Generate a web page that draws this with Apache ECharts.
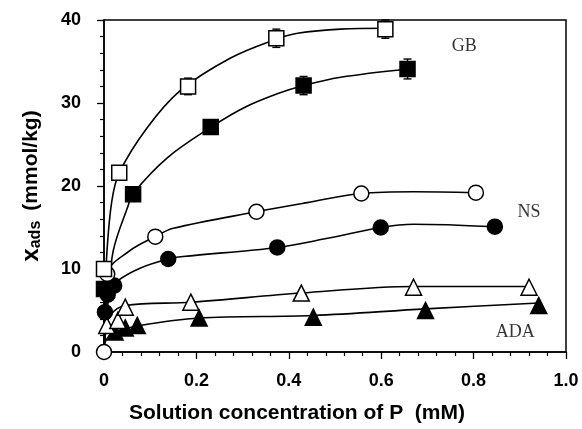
<!DOCTYPE html>
<html><head><meta charset="utf-8">
<script src="https://cdn.jsdelivr.net/npm/echarts@6/dist/echarts.min.js"></script>
<style>html,body{margin:0;padding:0;background:#fff}#c{width:582px;height:429px}</style>
</head><body><div id="c"></div>
<script>
// x tick labels / axis
const xTicks = [0, 0.2, 0.4, 0.6, 0.8, 1.0];
const yTicks = [0, 10, 20, 30, 40];

// measured points [x (mM), x_ads (mmol/kg)]
const gbOpen   = [[0,10.0],[0.033,21.6],[0.182,32.0],[0.373,37.8],[0.609,38.9]];
const gbFilled = [[0,7.6],[0.063,19.0],[0.231,27.1],[0.432,32.1],[0.657,34.1]];
const nsOpen   = [[0,0],[0.007,9.4],[0.111,13.9],[0.330,16.9],[0.557,19.1],[0.805,19.2]];
const nsFilled = [[0.002,4.8],[0.008,6.9],[0.022,8.0],[0.139,11.2],[0.375,12.6],[0.599,15.0],[0.846,15.1]];
const adaOpen  = [[0.006,3.2],[0.030,3.8],[0.046,5.4],[0.188,6.0],[0.427,7.1],[0.670,7.8],[0.920,7.8]];
const adaFilled= [[0.024,2.4],[0.046,2.9],[0.072,3.2],[0.206,4.1],[0.453,4.2],[0.696,5.0],[0.941,5.6]];

// error bars [x, low, high]
const errBars = [[0.182,31.0,33.0],[0.373,36.7,38.9],[0.609,37.8,40.0],[0.432,31.0,33.2],[0.657,32.9,35.3]];

// fitted curves
const gbOpenCurve   = [[0,0],[0.002,6.2],[0.0065,12.2],[0.017,18.2],[0.033,21.6],[0.093,27.0],[0.165,31.5],[0.273,35.4],[0.373,37.7],[0.419,38.4],[0.512,38.9],[0.609,39.0]];
const gbFilledCurve = [[0,0],[0.009,6.2],[0.02,12.2],[0.052,17.6],[0.063,19.1],[0.137,23.4],[0.232,27.1],[0.302,29.4],[0.375,31.1],[0.432,32.1],[0.512,33.1],[0.657,34.1]];
const nsOpenCurve   = [[0,0],[0.007,9.4],[0.056,12.2],[0.111,13.9],[0.150,14.9],[0.330,16.9],[0.440,18.0],[0.557,19.1],[0.670,19.3],[0.805,19.2]];
const nsFilledCurve = [[0,0],[0.002,4.8],[0.013,7.4],[0.030,8.6],[0.078,10.1],[0.139,11.2],[0.171,11.5],[0.375,12.6],[0.484,13.7],[0.599,15.0],[0.670,15.4],[0.844,15.1]];
const adaOpenCurve  = [[0,0],[0.004,2.6],[0.013,4.4],[0.046,5.6],[0.189,6.0],[0.427,7.1],[0.670,7.9],[0.920,7.9]];
const adaFilledCurve= [[0,0],[0.004,1.4],[0.024,2.4],[0.078,3.2],[0.206,4.1],[0.453,4.4],[0.696,5.2],[0.941,5.9]];

const labels = [{text:'GB', x:0.78, y:36.8},{text:'NS', x:0.92, y:16.8},{text:'ADA', x:0.89, y:2.4}];

const chart = echarts.init(document.getElementById('c'), null, {renderer:'canvas'});
const SANS = 'Liberation Sans, Arial';
function curve(d){return {type:'line',data:d,smooth:0.35,symbol:'none',lineStyle:{color:'#000',width:1.6},z:2,silent:true};}
function pts(d,sym,fill,size){return {type:'scatter',data:d,symbol:sym,symbolSize:size,itemStyle:{color:fill,borderColor:'#000',borderWidth:1.5,opacity:1},z:4,silent:true};}
const option = {
  animation:false,
  grid:{left:104,right:16,top:20,bottom:77,show:true,borderColor:'#000',borderWidth:1.5},
  xAxis:{type:'value',min:0,max:1,interval:0.2,
    axisLine:{show:true,lineStyle:{color:'#000',width:1.5}},
    axisTick:{show:true,length:7,lineStyle:{color:'#000',width:1.3}},
    minorTick:{show:true,splitNumber:5,length:4,lineStyle:{color:'#000',width:1.2}},
    splitLine:{show:false},
    axisLabel:{margin:20,color:'#000',fontFamily:SANS,fontWeight:'bold',fontSize:18,
      formatter:v=>{const t=xTicks.find(a=>Math.abs(a-v)<1e-9);return t===0?'0':(t===1?'1.0':t.toFixed(1));}},
    name:'Solution concentration of P  (mM)',nameLocation:'middle',nameGap:51,
    nameTextStyle:{color:'#000',fontFamily:SANS,fontWeight:'bold',fontSize:21,padding:[0,76,0,0]}},
  yAxis:{type:'value',min:0,max:40,interval:10,
    axisLine:{show:true,lineStyle:{color:'#000',width:1.5}},
    axisTick:{show:true,length:7,lineStyle:{color:'#000',width:1.3}},
    minorTick:{show:true,splitNumber:5,length:4,lineStyle:{color:'#000',width:1.2}},
    splitLine:{show:false},
    axisLabel:{margin:23,color:'#000',fontFamily:SANS,fontWeight:'bold',fontSize:18,
      formatter:v=>String(yTicks.find(a=>a===v))},
    name:'{x|x}{s|ads}   {u|(mmol/kg)}',nameLocation:'middle',nameGap:60,nameRotate:90,
    nameTextStyle:{rich:{
      x:{fontFamily:SANS,fontWeight:'bold',fontSize:24,color:'#000'},
      s:{fontFamily:SANS,fontWeight:'bold',fontSize:16,color:'#000',padding:[10,0,0,0]},
      u:{fontFamily:SANS,fontWeight:'bold',fontSize:21,color:'#000'}}}},
  series:[
    curve(gbOpenCurve),curve(gbFilledCurve),curve(nsOpenCurve),curve(nsFilledCurve),curve(adaOpenCurve),curve(adaFilledCurve),
    {type:'custom',data:errBars,z:3,silent:true,
      renderItem:(p,api)=>{const x=api.value(0);const a=api.coord([x,api.value(1)]);const b=api.coord([x,api.value(2)]);
        const st={stroke:'#000',lineWidth:1.4};
        return {type:'group',children:[
          {type:'line',shape:{x1:a[0],y1:a[1],x2:b[0],y2:b[1]},style:st},
          {type:'line',shape:{x1:a[0]-4,y1:a[1],x2:a[0]+4,y2:a[1]},style:st},
          {type:'line',shape:{x1:b[0]-4,y1:b[1],x2:b[0]+4,y2:b[1]},style:st}]};},
      encode:{x:0,y:[1,2]}},
    pts(adaFilled,'triangle','#000',16),pts(adaOpen,'triangle','#fff',16),
    pts(nsFilled,'circle','#000',15),pts(nsOpen,'circle','#fff',15),
    pts(gbFilled,'rect','#000',15),pts(gbOpen,'rect','#fff',15),
    {type:'scatter',data:labels.map(l=>[l.x,l.y,l.text]),symbolSize:0,silent:true,z:5,
      label:{show:true,formatter:p=>p.value[2],position:'inside',color:'#000',fontFamily:'Liberation Serif, Times New Roman',fontSize:18}}
  ]
};
chart.setOption(option);
</script></body></html>
